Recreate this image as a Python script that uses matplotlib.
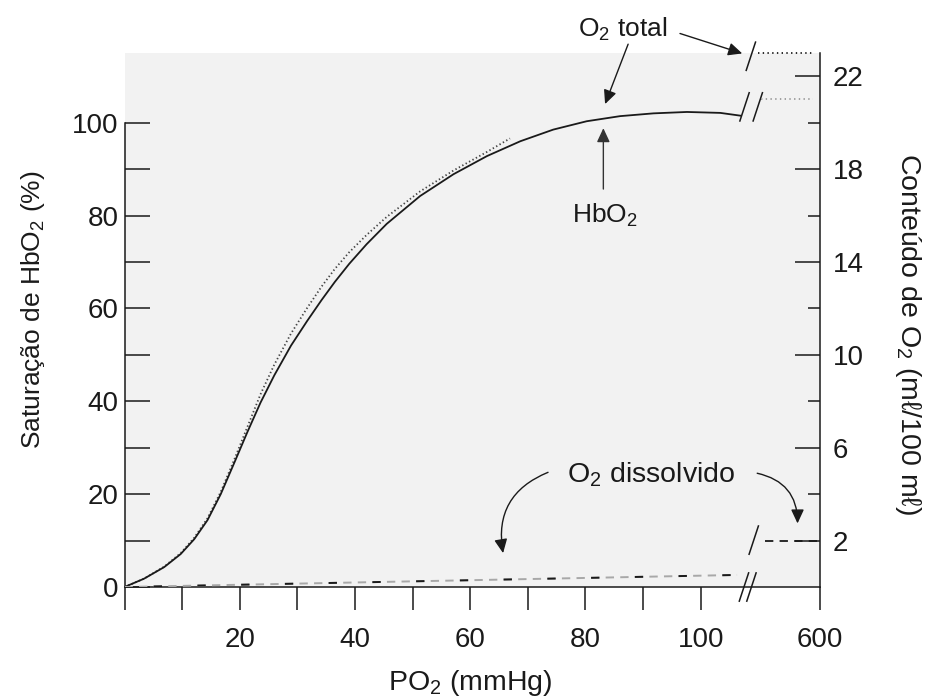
import matplotlib
matplotlib.use("Agg")
import matplotlib.pyplot as plt

plt.rcParams["font.family"] = ["Liberation Sans", "DejaVu Sans"]
plt.rcParams["mathtext.fontset"] = "custom"
plt.rcParams["mathtext.rm"] = "Liberation Sans"
plt.rcParams["lines.scale_dashes"] = False

# ----- data ----------------------------------------------------------
# HbO2 saturation curve (solid), % on the left axis
PO2_HB = [0, 3.4, 6.9, 9.75, 12.1, 14.4, 16.7, 19.0, 21.3, 23.6, 26.0, 28.9,
          31.7, 34.2, 36.5, 39.0, 42.0, 45.5, 51.3, 57.1, 62.9, 68.7, 74.4,
          80.2, 86.0, 91.8, 97.6, 103.4, 106.9]
SAT_HB = [0, 1.8, 4.3, 7.1, 10.3, 14.4, 20.0, 26.6, 33.3, 39.7, 45.6, 52.0,
          57.3, 61.8, 65.7, 69.6, 73.8, 78.2, 84.2, 88.9, 92.8, 96.0, 98.5,
          100.3, 101.4, 102.0, 102.3, 102.1, 101.5]

# dotted curve running just above the solid one
PO2_DOT = [0, 3.4, 6.9, 9.75, 12.1, 14.4, 16.7, 19.0, 21.3, 23.6, 26.0, 28.9,
           31.7, 34.2, 36.5, 39.0, 42.0, 45.5, 51.3, 57.1, 62.9, 66.9]
SAT_DOT = [0, 1.8, 4.4, 7.3, 10.6, 14.8, 20.5, 27.3, 34.4, 41.5, 47.9, 54.6,
           60.1, 64.7, 68.5, 72.1, 75.8, 79.7, 85.2, 89.7, 93.7, 96.6]

# dissolved O2 (ml O2 / 100 ml, right axis)
PO2_DIS = [0, 106.3]
ML_DIS = [0, 0.52]

# values after the axis break (PO2 = 600 mmHg), ml / 100 ml
ML_TOTAL_600 = 23.0
ML_HB_600 = 21.0
ML_DIS_600 = 2.0

X_TICKS = [20, 40, 60, 80, 100]
X_LABELS = ["20", "40", "60", "80", "100", "600"]
X_MINOR = [0, 10, 30, 50, 70, 90]
Y_TICKS = [0, 20, 40, 60, 80, 100]
Y_MINOR = [10, 30, 50, 70, 90]
Y2_TICKS = [2, 6, 10, 14, 18, 22]
Y2_MINOR = [4, 8, 12, 16, 20]

# ----- layout ----------------------------------------------------------
X_600 = 120.7       # axis position used for 600 mmHg
BREAK_X = 107.6
INK = "#1a1a1a"
BG = "#f2f2f2"
FS = 20


def slash(ax, xc, yc, dx=0.85, dy=3.2):
    ax.plot([xc - dx, xc + dx], [yc - dy, yc + dy], color=INK, lw=1.1,
            clip_on=False, solid_capstyle="butt", zorder=6)


def arrow(ax, tail, head, rad=0.0, color=INK):
    ax.annotate("", xy=head, xytext=tail, annotation_clip=False,
                arrowprops=dict(arrowstyle="-|>,head_length=0.6,head_width=0.28",
                                mutation_scale=14, color=color, lw=1.0,
                                shrinkA=0, shrinkB=0,
                                connectionstyle=f"arc3,rad={rad}"))


fig = plt.figure(figsize=(9.25, 7.0), dpi=100)
ax = fig.add_axes([0.1346, 0.1614, 0.7519, 0.7629])
ax.set_facecolor(BG)
ax.set_xlim(0, X_600)
ax.set_ylim(0, 115)

ax2 = ax.twinx()
ax2.set_ylim(0, 23)

# curves
ax.plot(PO2_DOT, SAT_DOT, color="#444444", lw=1.3, ls=(0, (1.0, 1.8)), zorder=3)
ax.plot(PO2_HB, SAT_HB, color=INK, lw=1.3, zorder=4)
ax2.plot(PO2_DIS, ML_DIS, color="#a8a8a8", lw=1.4, ls=(0, (6, 4.5)), zorder=3)
ax2.plot(PO2_DIS, ML_DIS, color=INK, lw=1.4, ls=(10.5, (6, 25.5)), zorder=3)

# stubs after the break
ax2.hlines(ML_TOTAL_600, 109.9, 119.5, color=INK, lw=1.3,
           linestyles=[(0, (1.0, 2.4))], clip_on=False)
ax2.hlines(ML_HB_600, 110.4, 119.4, color="#9a9a9a", lw=1.3,
           linestyles=[(0, (1.0, 2.4))], clip_on=False)
ax2.hlines(ML_DIS_600, 111.2, X_600, color=INK, lw=1.3,
           linestyles=[(0, (6, 4.5))])

# break marks
slash(ax, BREAK_X, 103.4)
slash(ax, BREAK_X + 2.3, 103.4)
slash(ax, BREAK_X + 1.1, 114.3)
slash(ax, BREAK_X - 0.1, 0)
slash(ax, BREAK_X + 1.2, 0)
slash(ax, BREAK_X + 1.6, 10.1)

# spines
for s in ("top", "right"):
    ax.spines[s].set_visible(False)
for s in ("top", "left", "bottom"):
    ax2.spines[s].set_visible(False)
ax.spines["left"].set_bounds(0, 100)
for sp in (ax.spines["left"], ax.spines["bottom"], ax2.spines["right"]):
    sp.set_linewidth(1.1)
    sp.set_color(INK)

# ticks
ax.set_xticks(X_TICKS + [X_600])
ax.set_xticklabels(X_LABELS)
ax.set_xticks(X_MINOR, minor=True)
ax.tick_params(axis="x", which="both", direction="out", length=16.5,
               width=1.1, color=INK, labelsize=FS, pad=12, labelcolor=INK)

ax.set_yticks(Y_TICKS)
ax.set_yticks(Y_MINOR, minor=True)
ax.tick_params(axis="y", which="both", direction="in", length=18,
               width=1.1, color=INK, labelsize=FS, pad=4.5, labelcolor=INK)

ax2.set_yticks(Y2_TICKS)
ax2.set_yticks(Y2_MINOR, minor=True)
ax2.tick_params(axis="y", which="major", direction="in", length=18,
                width=1.1, color=INK, labelsize=FS, pad=9, labelcolor=INK)
ax2.tick_params(axis="y", which="minor", direction="in", length=9,
                width=1.1, color=INK)

# axis titles
fig.text(0.0357, 0.558, "Saturação de HbO$_\\mathregular{2}$ (%)", rotation=90,
         ha="center", va="center", fontsize=19, color=INK)
fig.text(0.982, 0.523, "Conteúdo de O$_\\mathregular{2}$ (mℓ/100 mℓ)", rotation=-90,
         ha="center", va="center", fontsize=20.5, color=INK)
fig.text(0.508, 0.024, "PO$_\\mathregular{2}$ (mmHg)", ha="center", va="center",
         fontsize=20.5, color=INK)

# annotations
ax.text(78.7, 118.6, "O$_\\mathregular{2}$ total", fontsize=19, color=INK,
        ha="left", va="baseline", clip_on=False)
arrow(ax, (96.4, 119.2), (107.2, 114.9))
arrow(ax, (87.4, 116.9), (83.4, 104.0))

ax.text(77.6, 78.5, "HbO$_\\mathregular{2}$", fontsize=19, color=INK,
        ha="left", va="baseline")
arrow(ax, (83.1, 85.7), (83.1, 98.8), color="#333333")

ax.text(76.8, 22.6, "O$_\\mathregular{2}$ dissolvido", fontsize=20.5, color=INK,
        ha="left", va="baseline")
arrow(ax, (73.5, 24.7), (65.7, 7.3), rad=0.4)
arrow(ax, (109.8, 24.5), (116.8, 13.7), rad=-0.4)

fig.savefig("out.png", dpi=100, facecolor="white")
